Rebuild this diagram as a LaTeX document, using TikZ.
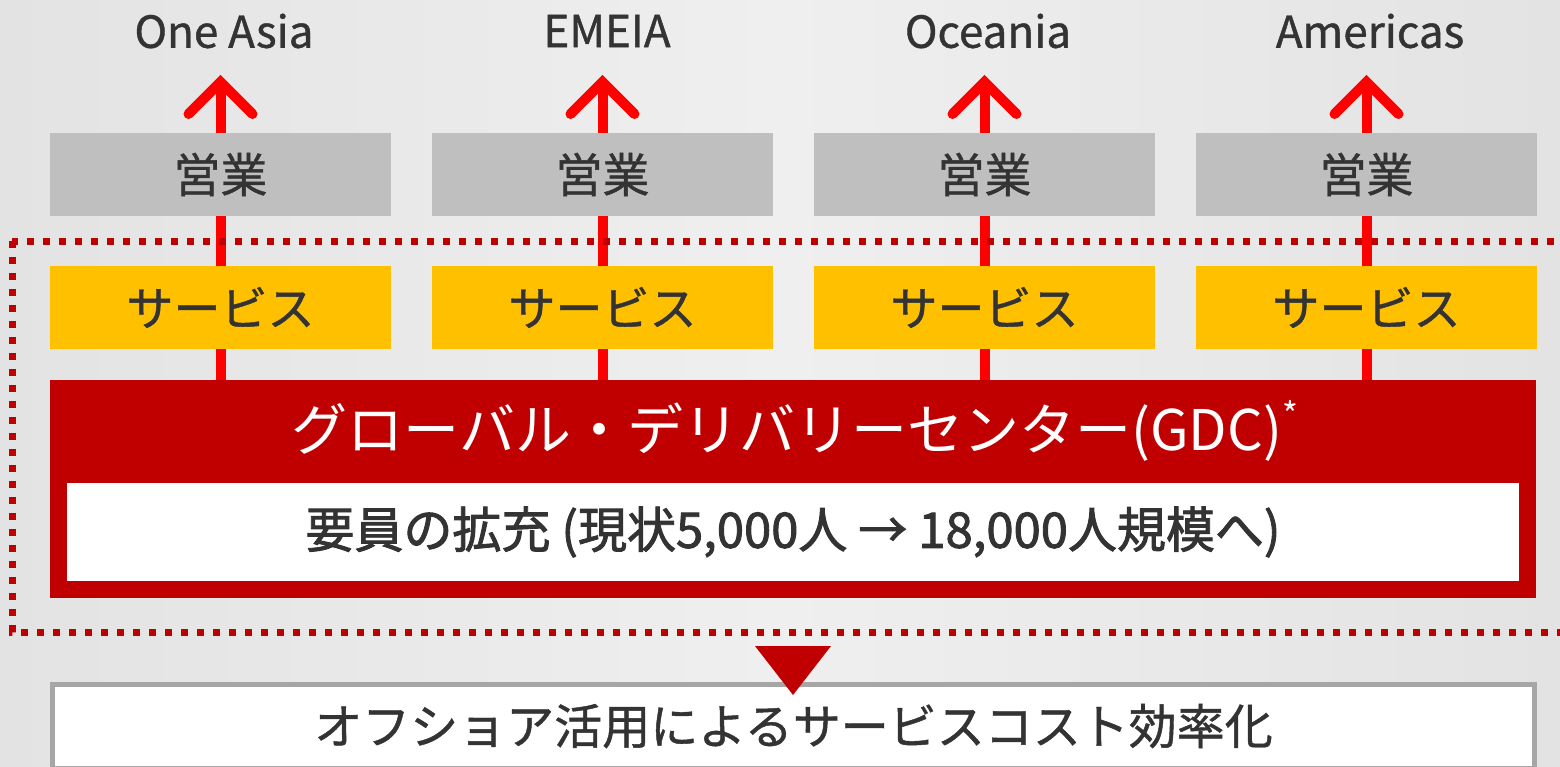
\documentclass[tikz,border=0pt]{standalone}
\usepackage{fontspec}
\setmainfont{Noto Sans CJK JP}
\newfontfamily\boldjp[FakeBold=1.8]{Noto Sans CJK JP}
\newfontfamily\medjp[FakeBold=0.9]{Noto Sans CJK JP}
\definecolor{txt}{HTML}{333333}
\definecolor{salesgray}{HTML}{BFBFBF}
\definecolor{svcyellow}{HTML}{FFC000}
\definecolor{darkred}{HTML}{C00000}
\definecolor{arrowred}{HTML}{FF0000}
\definecolor{bordergray}{HTML}{A6A6A6}
\definecolor{bgside}{HTML}{E3E3E3}
\definecolor{bgmid}{HTML}{EFEFEF}
\tikzset{
  region/.style={text=txt, inner sep=0pt, font=\medjp\fontsize{44}{44}\selectfont},
  salesbox/.style={fill=salesgray, text=txt, minimum width=341pt, minimum height=83pt, inner sep=0pt, font=\medjp\fontsize{47}{47}\selectfont},
  svcbox/.style={fill=svcyellow, text=txt, minimum width=341pt, minimum height=83pt, inner sep=0pt, font=\medjp\fontsize{47}{47}\selectfont},
  gdcbox/.style={fill=darkred, minimum width=1486pt, minimum height=218pt, inner sep=0pt},
  gdctitle/.style={text=white, inner sep=0pt, font=\fontsize{56}{56}\selectfont},
  innerbox/.style={fill=white, text=txt, minimum width=1452pt, minimum height=98pt, inner sep=0pt, font=\boldjp\fontsize{49}{49}\selectfont},
  resultbox/.style={fill=white, draw=bordergray, line width=5pt, text=txt, minimum width=1482pt, minimum height=84pt, inner sep=0pt, font=\medjp\fontsize{48}{48}\selectfont},
  shaft/.style={draw=arrowred, line width=10pt},
  chev/.style={draw=arrowred, line width=10pt, line cap=round, line join=miter},
  dotborder/.style={draw=darkred, line width=7pt, dash pattern=on 7pt off 9pt},
}
\begin{document}
\begin{tikzpicture}[x=1pt,y=-1pt]
\useasboundingbox (0,0) rectangle (1560,766);
\clip (0,0) rectangle (1560,766);
\shade[left color=bgside, right color=bgside, middle color=bgmid] (0,0) rectangle (1560,766);

% region labels
\node[region] (r1) at (224,31) {One Asia};
\node[region] (r2) at (607,31) {EMEIA};
\node[region] (r3) at (988,31) {Oceania};
\node[region] (r4) at (1370,31) {Americas};

% arrow tips
\coordinate (t1) at (220.5,82);
\coordinate (t2) at (602.5,82);
\coordinate (t3) at (984.5,82);
\coordinate (t4) at (1366.5,82);

% GDC box
\node[gdcbox] (gdc) at (793,489) {};

% shafts and arrowheads
\foreach \i in {1,2,3,4}{
  \draw[shaft] (gdc.north -| t\i) -- ([shift={(0,4)}]t\i);
  \draw[chev] ([shift={(-32,32)}]t\i) -- (t\i) -- ([shift={(32,32)}]t\i);
}

% dotted border
\draw[dotborder] (12,241) rectangle (1640,632);

% sales boxes
\node[salesbox] (s1) at (220.5,174.5) {営業};
\node[salesbox] (s2) at (602.5,174.5) {営業};
\node[salesbox] (s3) at (984.5,174.5) {営業};
\node[salesbox] (s4) at (1366.5,174.5) {営業};

% service boxes
\node[svcbox] (v1) at (220.5,307.5) {サービス};
\node[svcbox] (v2) at (602.5,307.5) {サービス};
\node[svcbox] (v3) at (984.5,307.5) {サービス};
\node[svcbox] (v4) at (1366.5,307.5) {サービス};

% GDC title and inner box
\node[gdctitle] (title) at (795,431) {グローバル・デリバリーセンター(GDC)\raisebox{0.42em}{\fontsize{34}{34}\selectfont *}};
\node[innerbox] (inner) at (793,532) {要員の拡充 (現状5,000人 → 18,000人規模へ)};

% result box and triangle
\node[resultbox] (res) at (793.5,726) {オフショア活用によるサービスコスト効率化};
\fill[darkred] (755,646) -- (831,646) -- (793,695) -- cycle;
\end{tikzpicture}
\end{document}
